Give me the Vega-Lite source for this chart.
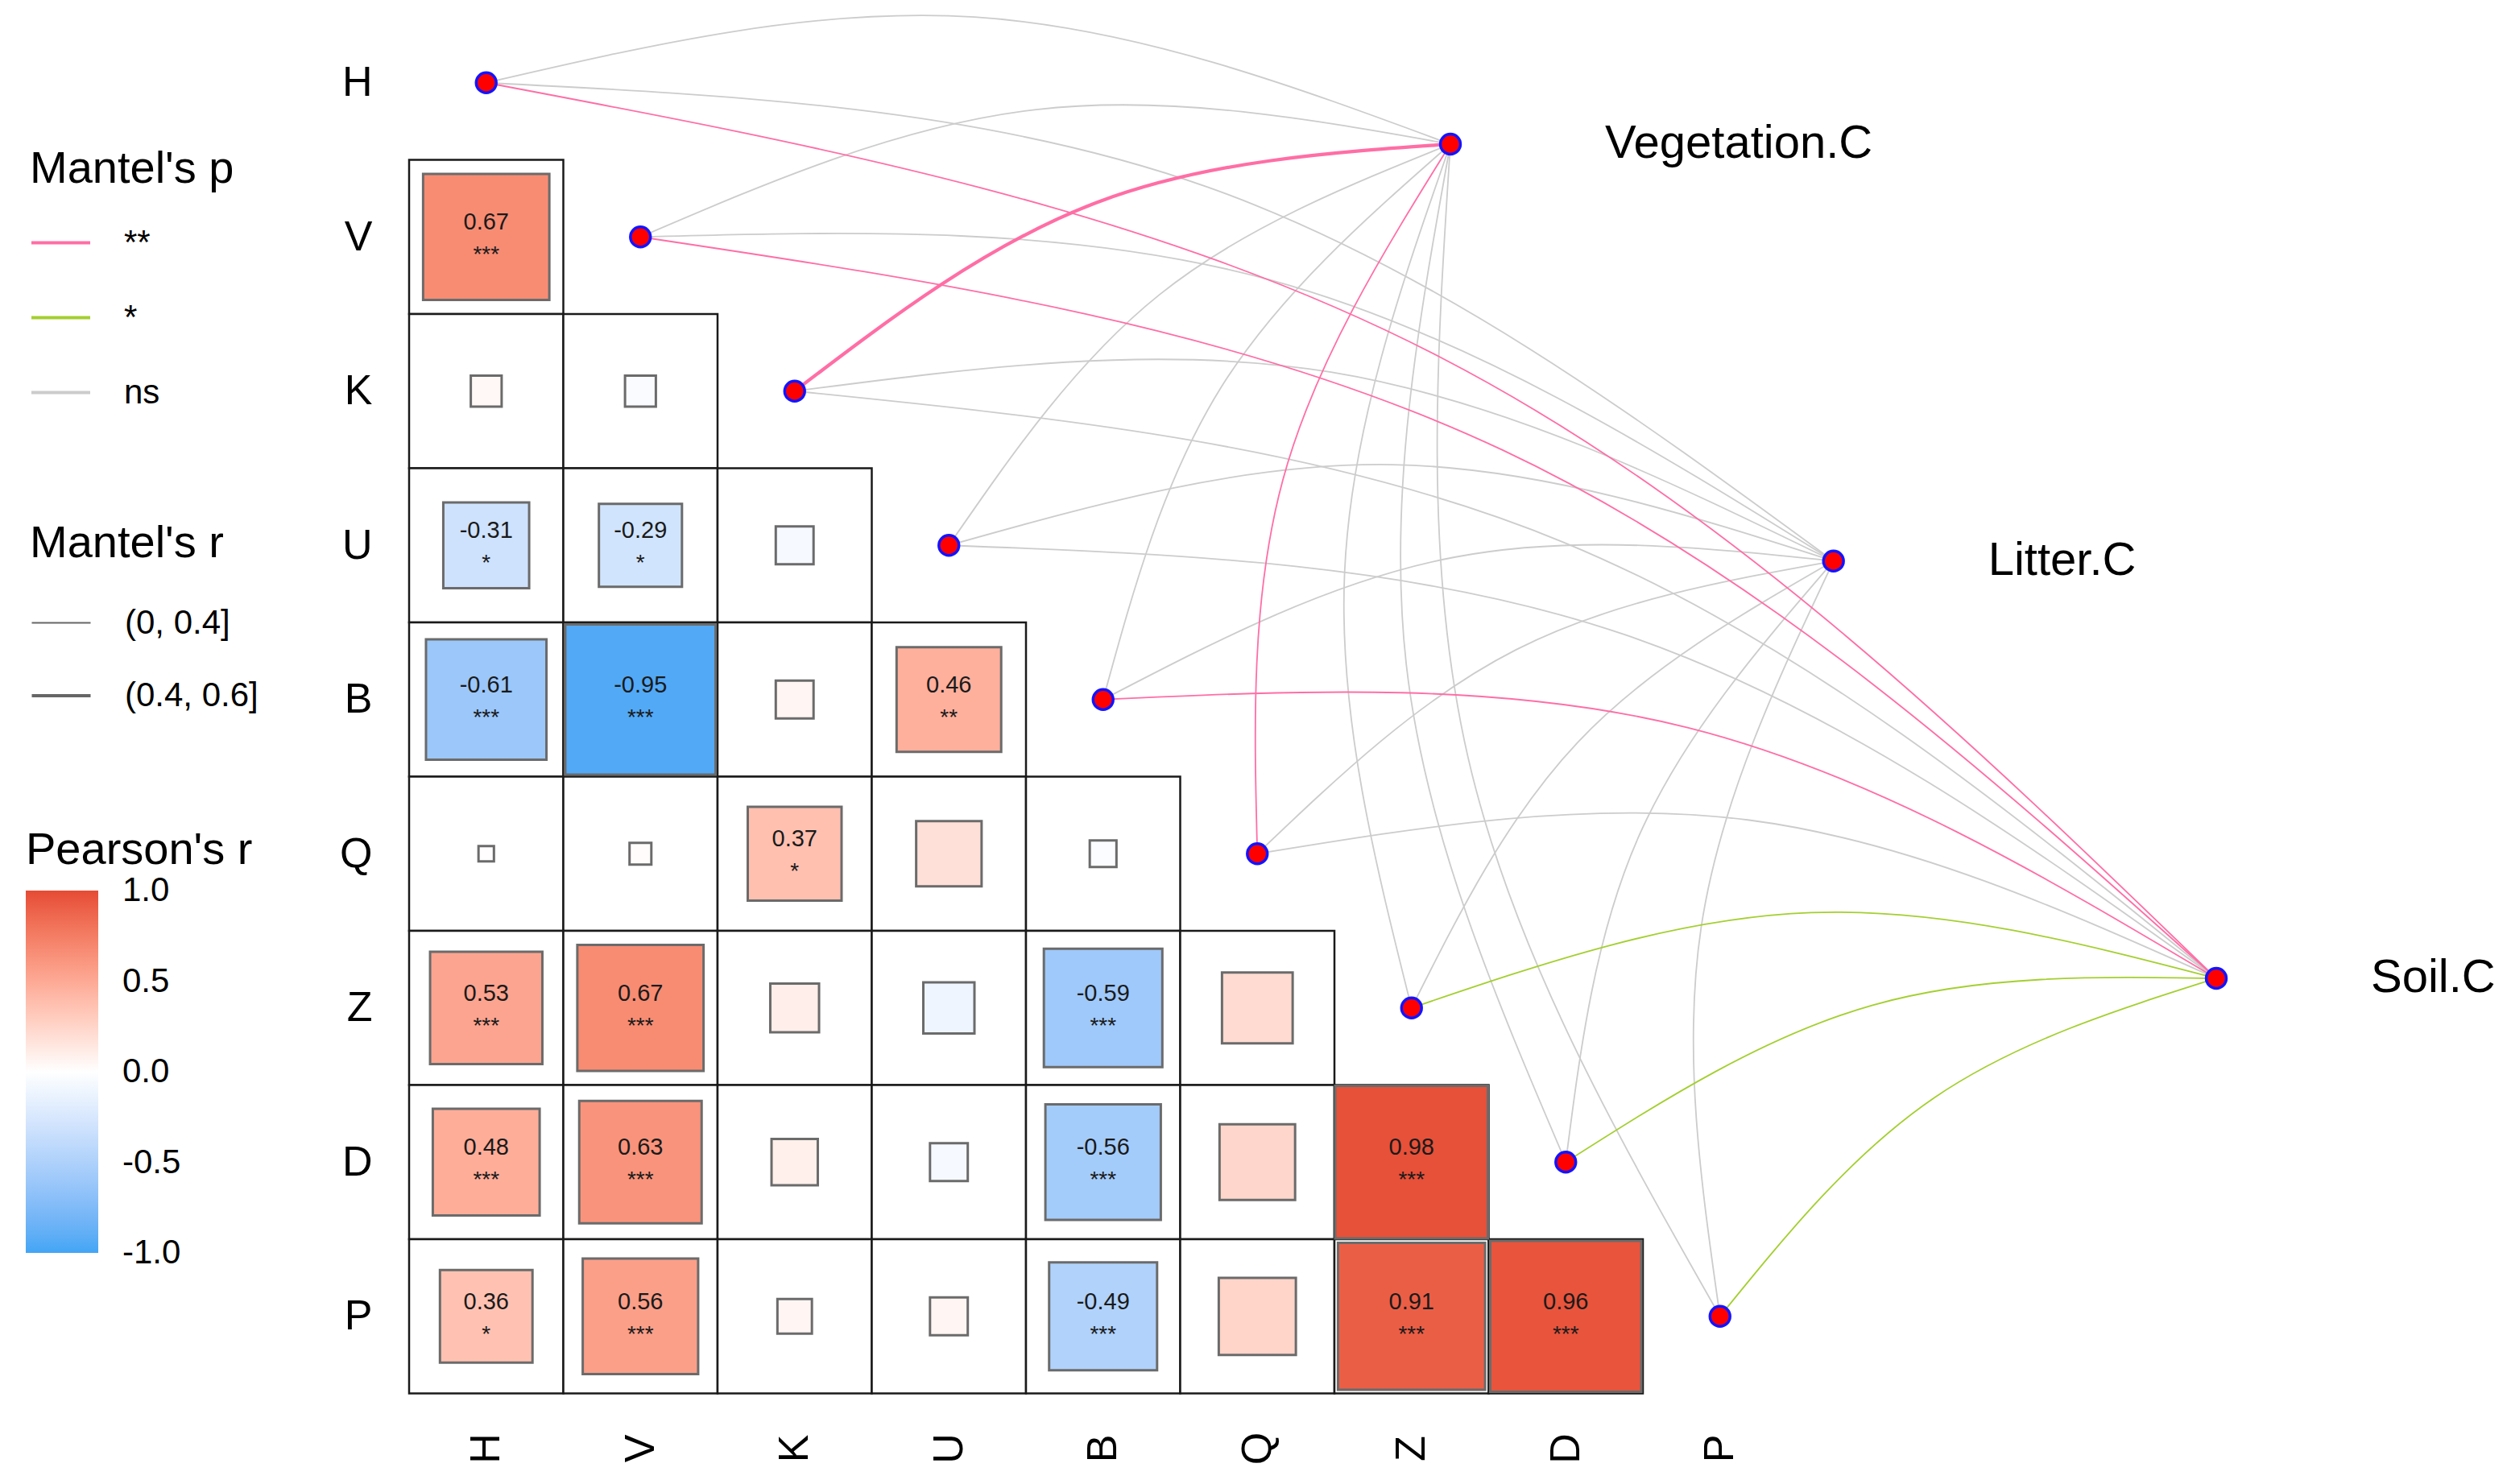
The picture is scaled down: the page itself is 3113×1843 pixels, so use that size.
{
  "$schema": "https://vega.github.io/schema/vega-lite/v6.json",
  "width": 2298,
  "height": 1723.5,
  "autosize": {"type": "none"},
  "padding": {"left": 508, "top": 7, "right": 307, "bottom": 112.5},
  "background": "white",
  "config": {
    "font": "Liberation Sans",
    "view": {"stroke": null},
    "axis": {"grid": false, "domain": false, "ticks": false, "labelFont": "Liberation Sans", "labelColor": "#000000", "labelFontSize": 52, "labelOverlap": false, "labelFlush": false},
    "legend": {"titleFont": "Liberation Sans", "labelFont": "Liberation Sans", "titleFontWeight": "normal", "titleColor": "#000000", "labelColor": "#000000", "padding": 0, "labelLimit": 400, "titleLimit": 600}
  },
  "datasets": {
    "cells": [
      {"row": "V", "col": "H", "x": 1, "y": 2, "r": 0.67, "lab": "0.67", "sig": "***"},
      {"row": "K", "col": "H", "x": 1, "y": 3, "r": 0.04, "lab": "", "sig": ""},
      {"row": "K", "col": "V", "x": 2, "y": 3, "r": -0.04, "lab": "", "sig": ""},
      {"row": "U", "col": "H", "x": 1, "y": 4, "r": -0.31, "lab": "-0.31", "sig": "*"},
      {"row": "U", "col": "V", "x": 2, "y": 4, "r": -0.29, "lab": "-0.29", "sig": "*"},
      {"row": "U", "col": "K", "x": 3, "y": 4, "r": -0.06, "lab": "", "sig": ""},
      {"row": "B", "col": "H", "x": 1, "y": 5, "r": -0.61, "lab": "-0.61", "sig": "***"},
      {"row": "B", "col": "V", "x": 2, "y": 5, "r": -0.95, "lab": "-0.95", "sig": "***"},
      {"row": "B", "col": "K", "x": 3, "y": 5, "r": 0.06, "lab": "", "sig": ""},
      {"row": "B", "col": "U", "x": 4, "y": 5, "r": 0.46, "lab": "0.46", "sig": "**"},
      {"row": "Q", "col": "H", "x": 1, "y": 6, "r": 0.01, "lab": "", "sig": ""},
      {"row": "Q", "col": "V", "x": 2, "y": 6, "r": 0.02, "lab": "", "sig": ""},
      {"row": "Q", "col": "K", "x": 3, "y": 6, "r": 0.37, "lab": "0.37", "sig": "*"},
      {"row": "Q", "col": "U", "x": 4, "y": 6, "r": 0.18, "lab": "", "sig": ""},
      {"row": "Q", "col": "B", "x": 5, "y": 6, "r": -0.03, "lab": "", "sig": ""},
      {"row": "Z", "col": "H", "x": 1, "y": 7, "r": 0.53, "lab": "0.53", "sig": "***"},
      {"row": "Z", "col": "V", "x": 2, "y": 7, "r": 0.67, "lab": "0.67", "sig": "***"},
      {"row": "Z", "col": "K", "x": 3, "y": 7, "r": 0.10, "lab": "", "sig": ""},
      {"row": "Z", "col": "U", "x": 4, "y": 7, "r": -0.11, "lab": "", "sig": ""},
      {"row": "Z", "col": "B", "x": 5, "y": 7, "r": -0.59, "lab": "-0.59", "sig": "***"},
      {"row": "Z", "col": "Q", "x": 6, "y": 7, "r": 0.21, "lab": "", "sig": ""},
      {"row": "D", "col": "H", "x": 1, "y": 8, "r": 0.48, "lab": "0.48", "sig": "***"},
      {"row": "D", "col": "V", "x": 2, "y": 8, "r": 0.63, "lab": "0.63", "sig": "***"},
      {"row": "D", "col": "K", "x": 3, "y": 8, "r": 0.09, "lab": "", "sig": ""},
      {"row": "D", "col": "U", "x": 4, "y": 8, "r": -0.06, "lab": "", "sig": ""},
      {"row": "D", "col": "B", "x": 5, "y": 8, "r": -0.56, "lab": "-0.56", "sig": "***"},
      {"row": "D", "col": "Q", "x": 6, "y": 8, "r": 0.24, "lab": "", "sig": ""},
      {"row": "D", "col": "Z", "x": 7, "y": 8, "r": 0.98, "lab": "0.98", "sig": "***"},
      {"row": "P", "col": "H", "x": 1, "y": 9, "r": 0.36, "lab": "0.36", "sig": "*"},
      {"row": "P", "col": "V", "x": 2, "y": 9, "r": 0.56, "lab": "0.56", "sig": "***"},
      {"row": "P", "col": "K", "x": 3, "y": 9, "r": 0.05, "lab": "", "sig": ""},
      {"row": "P", "col": "U", "x": 4, "y": 9, "r": 0.06, "lab": "", "sig": ""},
      {"row": "P", "col": "B", "x": 5, "y": 9, "r": -0.49, "lab": "-0.49", "sig": "***"},
      {"row": "P", "col": "Q", "x": 6, "y": 9, "r": 0.25, "lab": "", "sig": ""},
      {"row": "P", "col": "Z", "x": 7, "y": 9, "r": 0.91, "lab": "0.91", "sig": "***"},
      {"row": "P", "col": "D", "x": 8, "y": 9, "r": 0.96, "lab": "0.96", "sig": "***"}
    ],
    "nodes": [
      {"name": "H", "kind": "var", "x": 1, "y": 1},
      {"name": "V", "kind": "var", "x": 2, "y": 2},
      {"name": "K", "kind": "var", "x": 3, "y": 3},
      {"name": "U", "kind": "var", "x": 4, "y": 4},
      {"name": "B", "kind": "var", "x": 5, "y": 5},
      {"name": "Q", "kind": "var", "x": 6, "y": 6},
      {"name": "Z", "kind": "var", "x": 7, "y": 7},
      {"name": "D", "kind": "var", "x": 8, "y": 8},
      {"name": "P", "kind": "var", "x": 9, "y": 9},
      {"name": "Vegetation.C", "kind": "env", "x": 7.252, "y": 1.398},
      {"name": "Litter.C", "kind": "env", "x": 9.736, "y": 4.102},
      {"name": "Soil.C", "kind": "env", "x": 12.218, "y": 6.808}
    ],
    "links": [
      {"link": "Veg-H", "p": "ns", "rc": "(0, 0.4]", "step": 0, "x": 1, "y": 1},
      {"link": "Veg-H", "p": "ns", "rc": "(0, 0.4]", "step": 1, "x": 4.166, "y": 0.574},
      {"link": "Veg-H", "p": "ns", "rc": "(0, 0.4]", "step": 2, "x": 7.252, "y": 1.398},
      {"link": "Veg-V", "p": "ns", "rc": "(0, 0.4]", "step": 0, "x": 2, "y": 2},
      {"link": "Veg-V", "p": "ns", "rc": "(0, 0.4]", "step": 1, "x": 4.566, "y": 1.174},
      {"link": "Veg-V", "p": "ns", "rc": "(0, 0.4]", "step": 2, "x": 7.252, "y": 1.398},
      {"link": "Veg-U", "p": "ns", "rc": "(0, 0.4]", "step": 0, "x": 4, "y": 4},
      {"link": "Veg-U", "p": "ns", "rc": "(0, 0.4]", "step": 1, "x": 5.366, "y": 2.374},
      {"link": "Veg-U", "p": "ns", "rc": "(0, 0.4]", "step": 2, "x": 7.252, "y": 1.398},
      {"link": "Veg-B", "p": "ns", "rc": "(0, 0.4]", "step": 0, "x": 5, "y": 5},
      {"link": "Veg-B", "p": "ns", "rc": "(0, 0.4]", "step": 1, "x": 5.766, "y": 2.974},
      {"link": "Veg-B", "p": "ns", "rc": "(0, 0.4]", "step": 2, "x": 7.252, "y": 1.398},
      {"link": "Veg-Z", "p": "ns", "rc": "(0, 0.4]", "step": 0, "x": 7, "y": 7},
      {"link": "Veg-Z", "p": "ns", "rc": "(0, 0.4]", "step": 1, "x": 6.566, "y": 4.174},
      {"link": "Veg-Z", "p": "ns", "rc": "(0, 0.4]", "step": 2, "x": 7.252, "y": 1.398},
      {"link": "Veg-D", "p": "ns", "rc": "(0, 0.4]", "step": 0, "x": 8, "y": 8},
      {"link": "Veg-D", "p": "ns", "rc": "(0, 0.4]", "step": 1, "x": 6.966, "y": 4.774},
      {"link": "Veg-D", "p": "ns", "rc": "(0, 0.4]", "step": 2, "x": 7.252, "y": 1.398},
      {"link": "Veg-P", "p": "ns", "rc": "(0, 0.4]", "step": 0, "x": 9, "y": 9},
      {"link": "Veg-P", "p": "ns", "rc": "(0, 0.4]", "step": 1, "x": 7.366, "y": 5.374},
      {"link": "Veg-P", "p": "ns", "rc": "(0, 0.4]", "step": 2, "x": 7.252, "y": 1.398},
      {"link": "Lit-H", "p": "ns", "rc": "(0, 0.4]", "step": 0, "x": 1, "y": 1},
      {"link": "Lit-H", "p": "ns", "rc": "(0, 0.4]", "step": 1, "x": 5.678, "y": 1.677},
      {"link": "Lit-H", "p": "ns", "rc": "(0, 0.4]", "step": 2, "x": 9.736, "y": 4.102},
      {"link": "Lit-V", "p": "ns", "rc": "(0, 0.4]", "step": 0, "x": 2, "y": 2},
      {"link": "Lit-V", "p": "ns", "rc": "(0, 0.4]", "step": 1, "x": 6.078, "y": 2.277},
      {"link": "Lit-V", "p": "ns", "rc": "(0, 0.4]", "step": 2, "x": 9.736, "y": 4.102},
      {"link": "Lit-K", "p": "ns", "rc": "(0, 0.4]", "step": 0, "x": 3, "y": 3},
      {"link": "Lit-K", "p": "ns", "rc": "(0, 0.4]", "step": 1, "x": 6.478, "y": 2.877},
      {"link": "Lit-K", "p": "ns", "rc": "(0, 0.4]", "step": 2, "x": 9.736, "y": 4.102},
      {"link": "Lit-U", "p": "ns", "rc": "(0, 0.4]", "step": 0, "x": 4, "y": 4},
      {"link": "Lit-U", "p": "ns", "rc": "(0, 0.4]", "step": 1, "x": 6.878, "y": 3.477},
      {"link": "Lit-U", "p": "ns", "rc": "(0, 0.4]", "step": 2, "x": 9.736, "y": 4.102},
      {"link": "Lit-B", "p": "ns", "rc": "(0, 0.4]", "step": 0, "x": 5, "y": 5},
      {"link": "Lit-B", "p": "ns", "rc": "(0, 0.4]", "step": 1, "x": 7.278, "y": 4.077},
      {"link": "Lit-B", "p": "ns", "rc": "(0, 0.4]", "step": 2, "x": 9.736, "y": 4.102},
      {"link": "Lit-Q", "p": "ns", "rc": "(0, 0.4]", "step": 0, "x": 6, "y": 6},
      {"link": "Lit-Q", "p": "ns", "rc": "(0, 0.4]", "step": 1, "x": 7.678, "y": 4.677},
      {"link": "Lit-Q", "p": "ns", "rc": "(0, 0.4]", "step": 2, "x": 9.736, "y": 4.102},
      {"link": "Lit-Z", "p": "ns", "rc": "(0, 0.4]", "step": 0, "x": 7, "y": 7},
      {"link": "Lit-Z", "p": "ns", "rc": "(0, 0.4]", "step": 1, "x": 8.078, "y": 5.277},
      {"link": "Lit-Z", "p": "ns", "rc": "(0, 0.4]", "step": 2, "x": 9.736, "y": 4.102},
      {"link": "Lit-D", "p": "ns", "rc": "(0, 0.4]", "step": 0, "x": 8, "y": 8},
      {"link": "Lit-D", "p": "ns", "rc": "(0, 0.4]", "step": 1, "x": 8.478, "y": 5.877},
      {"link": "Lit-D", "p": "ns", "rc": "(0, 0.4]", "step": 2, "x": 9.736, "y": 4.102},
      {"link": "Lit-P", "p": "ns", "rc": "(0, 0.4]", "step": 0, "x": 9, "y": 9},
      {"link": "Lit-P", "p": "ns", "rc": "(0, 0.4]", "step": 1, "x": 8.878, "y": 6.477},
      {"link": "Lit-P", "p": "ns", "rc": "(0, 0.4]", "step": 2, "x": 9.736, "y": 4.102},
      {"link": "Soil-K", "p": "ns", "rc": "(0, 0.4]", "step": 0, "x": 3, "y": 3},
      {"link": "Soil-K", "p": "ns", "rc": "(0, 0.4]", "step": 1, "x": 7.990, "y": 3.982},
      {"link": "Soil-K", "p": "ns", "rc": "(0, 0.4]", "step": 2, "x": 12.218, "y": 6.808},
      {"link": "Soil-U", "p": "ns", "rc": "(0, 0.4]", "step": 0, "x": 4, "y": 4},
      {"link": "Soil-U", "p": "ns", "rc": "(0, 0.4]", "step": 1, "x": 8.390, "y": 4.582},
      {"link": "Soil-U", "p": "ns", "rc": "(0, 0.4]", "step": 2, "x": 12.218, "y": 6.808},
      {"link": "Soil-Q", "p": "ns", "rc": "(0, 0.4]", "step": 0, "x": 6, "y": 6},
      {"link": "Soil-Q", "p": "ns", "rc": "(0, 0.4]", "step": 1, "x": 9.190, "y": 5.782},
      {"link": "Soil-Q", "p": "ns", "rc": "(0, 0.4]", "step": 2, "x": 12.218, "y": 6.808},
      {"link": "Soil-Z", "p": "*", "rc": "(0, 0.4]", "step": 0, "x": 7, "y": 7},
      {"link": "Soil-Z", "p": "*", "rc": "(0, 0.4]", "step": 1, "x": 9.590, "y": 6.382},
      {"link": "Soil-Z", "p": "*", "rc": "(0, 0.4]", "step": 2, "x": 12.218, "y": 6.808},
      {"link": "Soil-D", "p": "*", "rc": "(0, 0.4]", "step": 0, "x": 8, "y": 8},
      {"link": "Soil-D", "p": "*", "rc": "(0, 0.4]", "step": 1, "x": 9.990, "y": 6.982},
      {"link": "Soil-D", "p": "*", "rc": "(0, 0.4]", "step": 2, "x": 12.218, "y": 6.808},
      {"link": "Soil-P", "p": "*", "rc": "(0, 0.4]", "step": 0, "x": 9, "y": 9},
      {"link": "Soil-P", "p": "*", "rc": "(0, 0.4]", "step": 1, "x": 10.390, "y": 7.582},
      {"link": "Soil-P", "p": "*", "rc": "(0, 0.4]", "step": 2, "x": 12.218, "y": 6.808},
      {"link": "Veg-K", "p": "**", "rc": "(0.4, 0.6]", "step": 0, "x": 3, "y": 3},
      {"link": "Veg-K", "p": "**", "rc": "(0.4, 0.6]", "step": 1, "x": 4.966, "y": 1.774},
      {"link": "Veg-K", "p": "**", "rc": "(0.4, 0.6]", "step": 2, "x": 7.252, "y": 1.398},
      {"link": "Veg-Q", "p": "**", "rc": "(0, 0.4]", "step": 0, "x": 6, "y": 6},
      {"link": "Veg-Q", "p": "**", "rc": "(0, 0.4]", "step": 1, "x": 6.166, "y": 3.574},
      {"link": "Veg-Q", "p": "**", "rc": "(0, 0.4]", "step": 2, "x": 7.252, "y": 1.398},
      {"link": "Soil-H", "p": "**", "rc": "(0, 0.4]", "step": 0, "x": 1, "y": 1},
      {"link": "Soil-H", "p": "**", "rc": "(0, 0.4]", "step": 1, "x": 7.190, "y": 2.782},
      {"link": "Soil-H", "p": "**", "rc": "(0, 0.4]", "step": 2, "x": 12.218, "y": 6.808},
      {"link": "Soil-V", "p": "**", "rc": "(0, 0.4]", "step": 0, "x": 2, "y": 2},
      {"link": "Soil-V", "p": "**", "rc": "(0, 0.4]", "step": 1, "x": 7.590, "y": 3.382},
      {"link": "Soil-V", "p": "**", "rc": "(0, 0.4]", "step": 2, "x": 12.218, "y": 6.808},
      {"link": "Soil-B", "p": "**", "rc": "(0, 0.4]", "step": 0, "x": 5, "y": 5},
      {"link": "Soil-B", "p": "**", "rc": "(0, 0.4]", "step": 1, "x": 8.790, "y": 5.182},
      {"link": "Soil-B", "p": "**", "rc": "(0, 0.4]", "step": 2, "x": 12.218, "y": 6.808}
    ]
  },
  "encoding": {
    "x": {
      "field": "x", "type": "quantitative",
      "scale": {"domain": [0.5, 12.5], "nice": false, "zero": false},
      "axis": {"orient": "bottom", "values": [1, 2, 3, 4, 5, 6, 7, 8, 9], "labelExpr": "['H','V','K','U','B','Q','Z','D','P'][datum.value - 1]", "labelAngle": -90, "labelAlign": "center", "labelBaseline": "middle", "labelPadding": 68, "title": null}
    },
    "y": {
      "field": "y", "type": "quantitative",
      "scale": {"domain": [0.5, 9.5], "reverse": true, "nice": false, "zero": false},
      "axis": {"orient": "left", "values": [1, 2, 3, 4, 5, 6, 7, 8, 9], "labelExpr": "['H','V','K','U','B','Q','Z','D','P'][datum.value - 1]", "labelPadding": 46, "title": null}
    }
  },
  "layer": [
    {
      "data": {"name": "cells"},
      "mark": {"type": "square", "size": 36672, "filled": true, "fill": "#ffffff", "stroke": "#1a1a1a", "strokeWidth": 2.5, "opacity": 1}
    },
    {
      "data": {"name": "cells"},
      "mark": {"type": "square", "filled": true, "stroke": "#6b6b6b", "strokeWidth": 3, "opacity": 1},
      "encoding": {
        "fill": {
          "field": "r", "type": "quantitative",
          "scale": {"domain": [-1, 1], "domainMid": 0, "range": ["#42A5F5", "#FFFFFF", "#E64B35"], "interpolate": "lab"},
          "legend": {"title": "Pearson's r", "orient": "none", "legendX": -476, "legendY": 1022, "direction": "vertical", "gradientLength": 450, "gradientThickness": 90, "gradientStrokeWidth": 0, "values": [-0.9999, -0.5, 0, 0.5, 0.9999], "labelExpr": "replace(format(datum.value, '.1f'), '\u2212', '-')", "labelFontSize": 42, "titleFontSize": 56, "labelOffset": 30, "titlePadding": 21}
        },
        "size": {
          "field": "r", "type": "quantitative",
          "scale": {"domain": [-1, 0, 1], "range": [36672, 0, 36672]},
          "legend": null
        }
      }
    },
    {
      "data": {"name": "cells"},
      "mark": {"type": "text", "fontSize": 29, "baseline": "alphabetic", "dy": -9, "color": "#1a1a1a"},
      "encoding": {"text": {"field": "lab"}}
    },
    {
      "data": {"name": "cells"},
      "mark": {"type": "text", "fontSize": 28, "baseline": "alphabetic", "dy": 31, "color": "#1a1a1a"},
      "encoding": {"text": {"field": "sig"}}
    },
    {
      "data": {"name": "links"},
      "mark": {"type": "line", "interpolate": "natural", "strokeCap": "round"},
      "encoding": {
        "detail": {"field": "link"},
        "order": {"field": "step", "type": "quantitative"},
        "color": {
          "field": "p", "type": "nominal",
          "scale": {"domain": ["**", "*", "ns"], "range": ["#FF6EA5", "#A4CF30", "#CCCCCC"]},
          "legend": {"title": "Mantel's p", "orient": "none", "legendX": -471, "legendY": 176, "symbolType": "stroke", "symbolSize": 5329, "symbolStrokeWidth": 4, "labelFontSize": 42, "titleFontSize": 56, "labelOffset": 40, "rowPadding": 33, "titlePadding": 24}
        },
        "strokeWidth": {
          "field": "rc", "type": "ordinal",
          "scale": {"type": "ordinal", "domain": ["(0, 0.4]", "(0.4, 0.6]"], "range": [1.8, 4.2]},
          "legend": {"title": "Mantel's r", "orient": "none", "legendX": -471, "legendY": 641, "symbolType": "stroke", "symbolSize": 5329, "symbolStrokeColor": "#666666", "labelFontSize": 42, "titleFontSize": 56, "labelOffset": 40, "rowPadding": 30, "titlePadding": 32}
        }
      }
    },
    {
      "data": {"name": "nodes"},
      "mark": {"type": "circle", "size": 620, "filled": true, "fill": "#FF0000", "stroke": "#1414FF", "strokeWidth": 3.5, "opacity": 1}
    },
    {
      "data": {"name": "nodes"},
      "transform": [{"filter": "datum.kind == 'env'"}],
      "mark": {"type": "text", "align": "left", "baseline": "middle", "dx": 192, "fontSize": 58, "color": "#000000"},
      "encoding": {"text": {"field": "name"}}
    }
  ]
}
